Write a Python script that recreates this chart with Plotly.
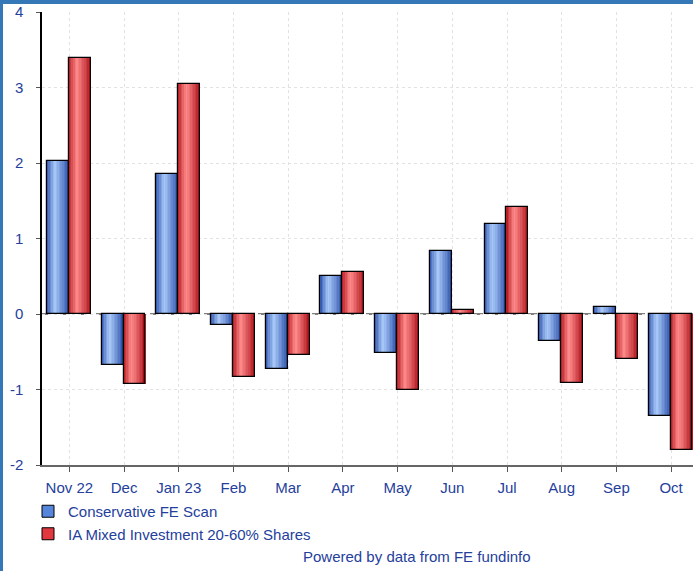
import plotly.graph_objects as go

months = ["Nov 22", "Dec", "Jan 23", "Feb", "Mar", "Apr", "May", "Jun", "Jul", "Aug", "Sep", "Oct"]
conservative = [2.03, -0.67, 1.85, -0.14, -0.73, 0.50, -0.52, 0.83, 1.19, -0.36, 0.09, -1.35]
ia_mixed = [3.39, -0.93, 3.05, -0.84, -0.54, 0.55, -1.00, 0.05, 1.42, -0.92, -0.60, -1.80]
series_names = ["Conservative FE Scan", "IA Mixed Investment 20-60% Shares"]
y_tick_vals = [-2, -1, 0, 1, 2, 3, 4]
y_tick_text = ["-2", "-1", "0", "1", "2", "3", "4"]

TXT = "#25409c"
FONT = "Liberation Sans, Arial, sans-serif"

W, H = 693, 571
ML, MR, MT, MB = 42, 0, 12, 106
PW, PH = W - ML - MR, H - MT - MB


def px_x(p):
    return (p - ML) / PW


def px_y(p):
    return (H - MB - p) / PH


def lerp(c1, c2, t):
    return "rgb(%d,%d,%d)" % tuple(round(a + (b - a) * t) for a, b in zip(c1, c2))


styles = [
    dict(dark=(36, 72, 165), light=(168, 200, 248), mid="#5686dc", offset=-0.41),
    dict(dark=(168, 12, 20), light=(255, 138, 138), mid="#e0383e", offset=-0.01),
]
BW = 0.40
NSTRIPE = 14

fig = go.Figure()
x_idx = list(range(len(months)))

for vals, name, st in zip([conservative, ia_mixed], series_names, styles):
    # base bar (legend swatch)
    fig.add_trace(go.Bar(x=x_idx, y=vals, name=name, width=BW, offset=st["offset"],
                         marker=dict(color=st["mid"], line=dict(color="black", width=1)),
                         hoverinfo="skip"))
    # horizontal gradient stripes
    sw = BW / NSTRIPE
    for i in range(NSTRIPE):
        s = (i + 0.5) / NSTRIPE
        peak = 0.38
        t = 1 - (abs(s - peak) / (peak if s < peak else 1 - peak))
        t = max(0.0, min(1.0, t)) ** 0.8
        fig.add_trace(go.Bar(x=x_idx, y=vals, width=sw * 1.08, offset=st["offset"] + i * sw,
                             marker=dict(color=lerp(st["dark"], st["light"], t), line=dict(width=0)),
                             showlegend=False, hoverinfo="skip"))
    # outline on top
    fig.add_trace(go.Bar(x=x_idx, y=vals, width=BW, offset=st["offset"],
                         marker=dict(color="rgba(0,0,0,0)", line=dict(color="black", width=1.2)),
                         showlegend=False, hoverinfo="skip"))

shapes = [
    # dashed zero line
    dict(type="line", xref="paper", yref="y", x0=0, x1=1, y0=0, y1=0,
         line=dict(color="black", width=1, dash="dash"), layer="below"),
    # blue frame top and left
    dict(type="rect", xref="paper", yref="paper", x0=px_x(0), x1=px_x(W + 5),
         y0=px_y(4), y1=px_y(-2), fillcolor="#3578b8", line=dict(width=0), layer="above"),
    dict(type="rect", xref="paper", yref="paper", x0=px_x(-2), x1=px_x(3),
         y0=px_y(H + 5), y1=px_y(0), fillcolor="#3578b8", line=dict(width=0), layer="above"),
]

fig.update_layout(
    width=W, height=H,
    margin=dict(l=ML, r=MR, t=MT, b=MB, pad=0),
    paper_bgcolor="white", plot_bgcolor="white",
    barmode="overlay", bargap=0,
    font=dict(family=FONT, size=15, color=TXT),
    showlegend=True,
    legend=dict(x=px_x(28), y=px_y(495), xanchor="left", yanchor="top",
                bgcolor="rgba(0,0,0,0)", font=dict(size=15, color=TXT),
                tracegroupgap=0, itemwidth=30, traceorder="normal"),
    shapes=shapes,
    annotations=[dict(text="Powered by data from FE fundinfo", xref="paper", yref="paper",
                      x=px_x(417), y=px_y(556), xanchor="center", yanchor="middle",
                      showarrow=False, font=dict(size=15, color=TXT))],
    xaxis=dict(range=[-0.5, 11.4], tickmode="array", tickvals=x_idx, ticktext=months,
               tickson="boundaries", ticks="outside", ticklen=5, tickcolor="#555",
               showline=True, linecolor="#666", linewidth=1.5,
               showgrid=True, gridcolor="#e2e2e2", griddash="dot", gridwidth=1,
               zeroline=False, tickfont=dict(size=15, color=TXT), ticklabelstandoff=3,
               fixedrange=True),
    yaxis=dict(range=[-2, 4], tickmode="array", tickvals=y_tick_vals, ticktext=y_tick_text,
               ticks="outside", ticklen=4, tickcolor="#555",
               showline=True, linecolor="black", linewidth=1.5,
               showgrid=True, gridcolor="#e2e2e2", griddash="dot", gridwidth=1,
               zeroline=False, tickfont=dict(size=15, color=TXT), ticklabelstandoff=10,
               fixedrange=True),
)

fig.write_html("out.html", config=dict(displayModeBar=False),
               post_script="document.body.style.margin='0px';document.body.style.overflow='hidden';")
